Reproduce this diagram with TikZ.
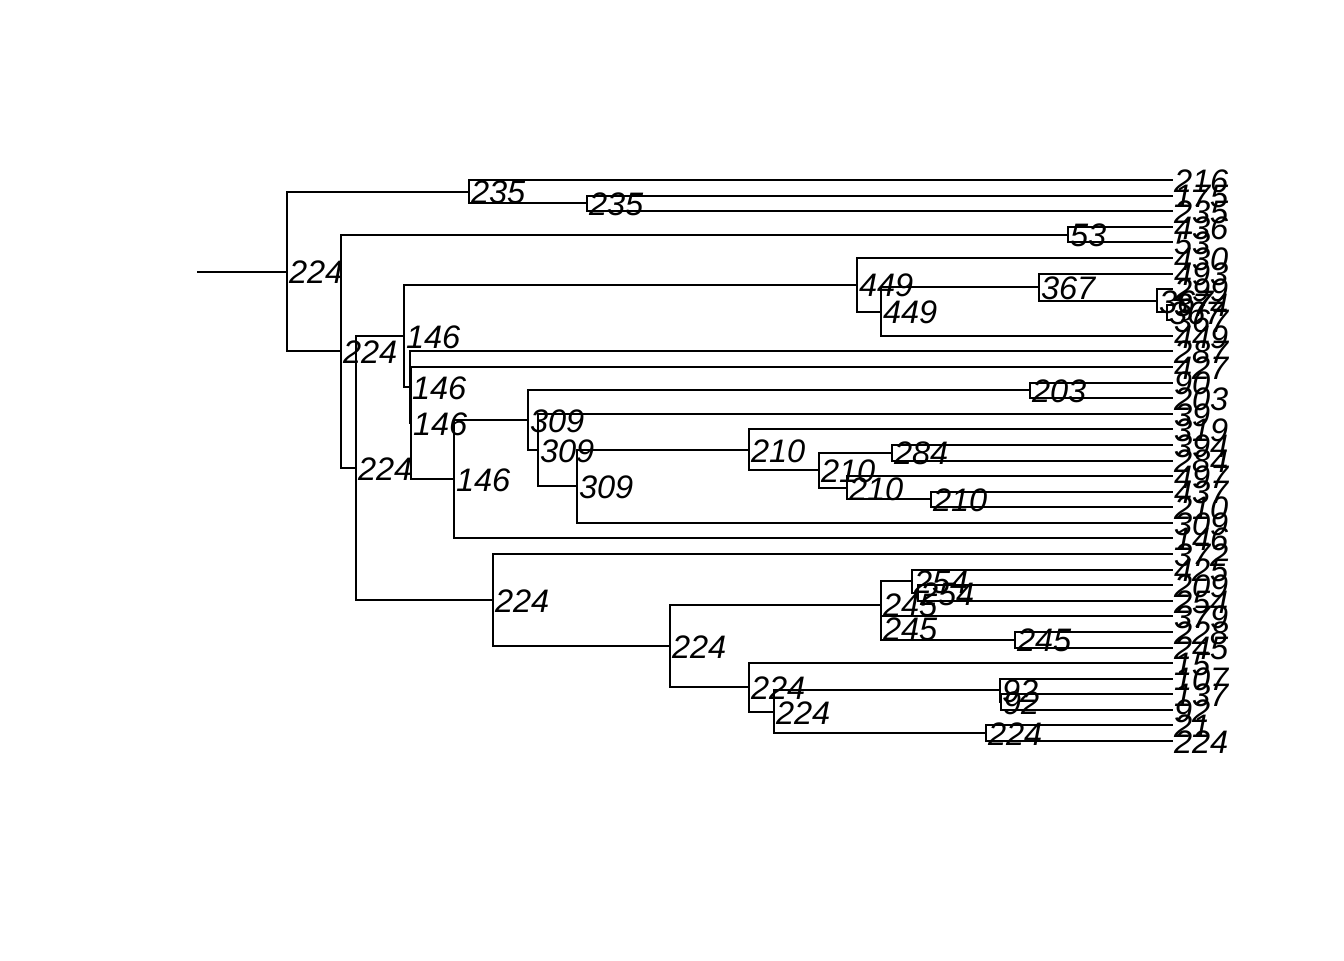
\documentclass[tikz,border=0pt]{standalone}
\usepackage{fontspec}
\setmainfont{Liberation Sans}
\begin{document}
\begin{tikzpicture}[x=0.375pt,y=-0.375pt,
  edge/.style={line width=0.75pt,line cap=rect},
  lbl/.style={anchor=west,inner sep=0pt,outer sep=0pt,xshift=0.75pt,yshift=-0.4pt,font=\itshape\fontsize{12.2}{12.2}\selectfont}]
\useasboundingbox (0,0) rectangle (1344,960);
% tips
\foreach \k/\t in {0/216,1/175,2/235,3/436,4/53,5/430,6/493,7/299,8/374,9/367,10/449,11/287,12/427,13/90,14/203,15/39,16/319,17/394,18/284,19/497,20/437,21/210,22/309,23/146,24/372,25/425,26/209,27/254,28/379,29/228,30/245,31/15,32/107,33/137,34/92,35/21,36/224}{
  \coordinate (t\k) at (1172,{180+15.583*\k});
}
% internal nodes
\coordinate (root) at (287,271.5);
\coordinate (rootstart) at (198,271.5);
\coordinate (n235a) at (469,191.7);
\coordinate (n235b) at (587,203.4);
\coordinate (n224b) at (341,351.25);
\coordinate (n53) at (1068,234.5);
\coordinate (n224c) at (356,468.0);
\coordinate (n146a) at (404,336.0);
\coordinate (n449a) at (857,284.7);
\coordinate (n449b) at (881,311.5);
\coordinate (n367a) at (1039,287.15);
\coordinate (n367b) at (1157,300.8);
\coordinate (n367c) at (1167,312.45);
\coordinate (n146D) at (410,387.3);
\coordinate (n146E) at (411,423.15);
\coordinate (n146F) at (454,479.3);
\coordinate (n309a) at (528,420.2);
\coordinate (n203) at (1030,390.4);
\coordinate (n309b) at (538,450.0);
\coordinate (n309c) at (577,486.3);
\coordinate (n210a) at (749,449.8);
\coordinate (n210b) at (819,470.25);
\coordinate (n284) at (892,452.7);
\coordinate (n210c) at (847,487.8);
\coordinate (n210d) at (931,499.45);
\coordinate (n224d) at (493,600.0);
\coordinate (n224e) at (670,646.05);
\coordinate (n245a) at (881,604.65);
\coordinate (n254a) at (912,581.3);
\coordinate (n254b) at (918,592.95);
\coordinate (n245b) at (881,628.0);
\coordinate (n245c) at (1015,639.7);
\coordinate (n224f) at (749,687.45);
\coordinate (n224g) at (774,711.8);
\coordinate (n92a) at (1000,690.4);
\coordinate (n92b) at (1001,702.05);
\coordinate (n224h) at (986,733.2);
% edges
\draw[edge] (rootstart) -- (root);
\foreach \a/\p/\b in {n235a/root/n224b, t0/n235a/n235b, t1/n235b/t2,
  n53/n224b/n224c, t3/n53/t4, n146a/n224c/n224d,
  n449a/n146a/n146D, t5/n449a/n449b, n367a/n449b/t10, t6/n367a/n367b,
  t7/n367b/n367c, t8/n367c/t9,
  t11/n146D/n146E, t12/n146E/n146F, n309a/n146F/t23,
  n203/n309a/n309b, t13/n203/t14, t15/n309b/n309c, n210a/n309c/t22,
  t16/n210a/n210b, n284/n210b/n210c, t17/n284/t18, t19/n210c/n210d, t20/n210d/t21,
  t24/n224d/n224e, n245a/n224e/n224f, n254a/n245a/n245b, t25/n254a/n254b,
  t26/n254b/t27, t28/n245b/n245c, t29/n245c/t30,
  t31/n224f/n224g, n92a/n224g/n224h, t32/n92a/n92b, t33/n92b/t34, t35/n224h/t36}{
  \draw[edge] (\a) -| (\p) |- (\b);
}
% node labels
\foreach \n/\t in {root/224,n235a/235,n235b/235,n224b/224,n53/53,n224c/224,n146a/146,
  n449a/449,n449b/449,n367a/367,n367b/367,n367c/367,n146D/146,n146E/146,n146F/146,
  n309a/309,n203/203,n309b/309,n309c/309,n210a/210,n210b/210,n284/284,n210c/210,n210d/210,
  n224d/224,n224e/224,n245a/245,n254a/254,n254b/254,n245b/245,n245c/245,
  n224f/224,n224g/224,n92a/92,n92b/92,n224h/224}{
  \node[lbl] (lab-\n) at (\n) {\t};
}
% tip labels
\foreach \k/\t in {0/216,1/175,2/235,3/436,4/53,5/430,6/493,7/299,8/374,9/367,10/449,11/287,12/427,13/90,14/203,15/39,16/319,17/394,18/284,19/497,20/437,21/210,22/309,23/146,24/372,25/425,26/209,27/254,28/379,29/228,30/245,31/15,32/107,33/137,34/92,35/21,36/224}{
  \node[lbl] (tl\k) at (t\k) {\t};
}
\end{tikzpicture}
\end{document}
